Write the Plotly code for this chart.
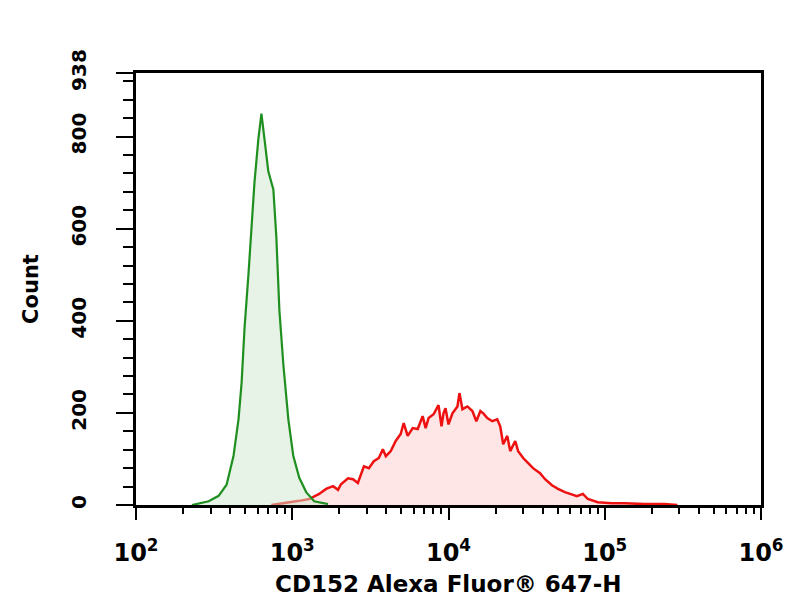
import plotly.graph_objects as go

# ---- data (fluorescence intensity, event count) ----
iso_x = [228, 292, 338, 380, 421, 453, 474, 495, 525, 548, 573, 607, 635,
         664, 703, 757, 791, 827, 877, 944, 1015, 1109, 1228, 1381, 1694]
iso_y = [0, 8, 20, 44, 107, 186, 265, 384, 503, 598, 700, 795, 850,
         795, 724, 685, 582, 424, 305, 186, 107, 59, 28, 8, 2]

ab_x = [735, 916, 1109, 1283, 1486, 1647, 1824, 1963, 2051, 2274, 2448, 2630,
        2875, 3093, 3327, 3583, 3800, 3972, 4272, 4594, 4943, 5167, 5480,
        5902, 6353, 6830, 7139, 7460, 8023, 8630, 9020, 9290, 9570, 10000,
        10600, 11410, 11750, 12280, 13210, 14220, 15070, 16000, 16710,
        17710, 19050, 20510, 21430, 22390, 23770, 24830, 26730, 27920,
        30060, 32360, 34750, 38550, 41500, 45920, 50230, 55590, 59840,
        66370, 72440, 77980, 90190, 110900, 134000, 179900, 241000, 291700]
ab_y = [0, 4, 9, 13, 24, 35, 41, 33, 45, 58, 56, 48,
        84, 80, 95, 102, 121, 106, 117, 139, 154, 178, 150,
        167, 165, 193, 167, 189, 197, 217, 171, 199, 210, 175,
        199, 214, 243, 208, 214, 204, 182, 204, 199,
        189, 182, 186, 171, 132, 150, 117, 139, 117,
        102, 91, 80, 69, 56, 43, 35, 28, 24,
        19, 24, 13, 6, 4, 4, 2, 2, 0]

x_tickvals = [1e2, 1e3, 1e4, 1e5, 1e6]
x_ticktext = ["10<sup>2</sup>", "10<sup>3</sup>", "10<sup>4</sup>",
              "10<sup>5</sup>", "10<sup>6</sup>"]
x_minor = [m * d for d in (1e2, 1e3, 1e4, 1e5) for m in range(2, 10)]
y_tickvals = [0, 200, 400, 600, 800, 938]
y_ticktext = ["0", "200", "400", "600", "800", "938"]
x_title = "CD152 Alexa Fluor® 647-H"
y_title = "Count"

FONT = "DejaVu Sans"

fig = go.Figure()
fig.add_trace(go.Scatter(
    x=ab_x, y=ab_y, mode="lines", fill="tozeroy",
    line=dict(color="#ee1111", width=2.5),
    fillcolor="rgba(255,210,210,0.55)", showlegend=False))
fig.add_trace(go.Scatter(
    x=iso_x, y=iso_y, mode="lines", fill="tozeroy",
    line=dict(color="#1f8f1f", width=2.2),
    fillcolor="rgba(205,232,205,0.5)", showlegend=False))

fig.update_layout(
    width=804, height=600,
    margin=dict(l=128, r=51, t=65, b=103),
    paper_bgcolor="white", plot_bgcolor="white",
    font=dict(family=FONT, color="black"),
)
fig.add_annotation(
    text=x_title, xref="paper", yref="paper", x=0.5, y=-0.182,
    xanchor="center", yanchor="middle", showarrow=False,
    font=dict(family=FONT, size=23, weight="bold", color="black"),
)
fig.update_xaxes(
    type="log", range=[2, 6],
    showline=True, linewidth=3, linecolor="black", mirror=True,
    showgrid=False, zeroline=False,
    tickmode="array", tickvals=x_tickvals, ticktext=x_ticktext,
    ticks="outside", ticklen=12, tickwidth=2, tickcolor="black",
    minor=dict(tickmode="array", tickvals=x_minor, ticks="outside",
               ticklen=6, tickwidth=1.5, tickcolor="black"),
    tickfont=dict(family=FONT, size=24, weight="bold", color="black"),
    ticklabelstandoff=12,
)
fig.update_yaxes(
    range=[0, 938],
    showline=True, linewidth=3, linecolor="black", mirror=True,
    showgrid=False, zeroline=False,
    tickmode="array", tickvals=y_tickvals, ticktext=y_ticktext,
    ticks="outside", ticklen=17, tickwidth=2, tickcolor="black",
    minor=dict(tickmode="linear", tick0=0, dtick=40, ticks="outside",
               ticklen=10, tickwidth=1.5, tickcolor="black"),
    tickangle=-90,
    tickfont=dict(family=FONT, size=20, weight="bold", color="black"),
    ticklabelstandoff=22,
    title=dict(text=y_title,
               font=dict(family=FONT, size=21, weight="bold", color="black"),
               standoff=23),
)

fig.write_html("out.html")
